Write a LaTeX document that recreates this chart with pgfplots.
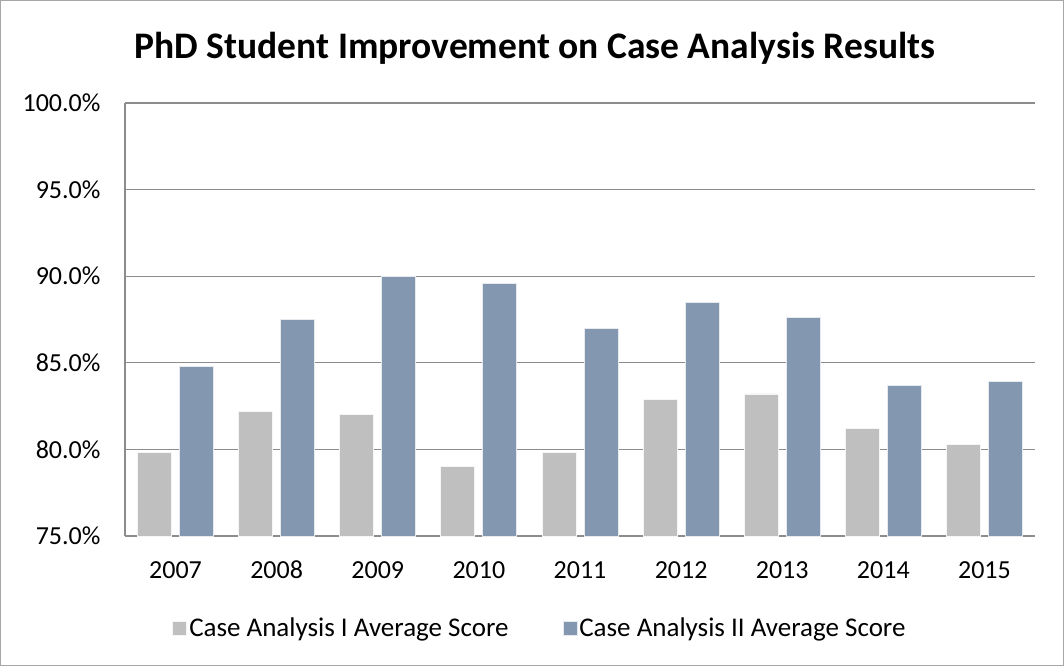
\documentclass[border=0pt]{standalone}
\usepackage{pgfplots}
\pgfplotsset{compat=1.18}
\usepackage{fontspec}
\setmainfont{Carlito}
\definecolor{barA}{HTML}{BFBFBF}
\definecolor{barB}{HTML}{8497B0}
\definecolor{gridc}{HTML}{8C8C8C}
\begin{document}
\begin{tikzpicture}[x=1pt,y=1pt]
\useasboundingbox (0,0) rectangle (1064,666);
\draw[gray!70, line width=1pt] (0.5,0.5) rectangle (1063.5,665.5);
\node[font=\fontsize{37.5}{43}\selectfont\bfseries] at (535,618) {PhD Student Improvement on Case Analysis Results};
\begin{axis}[
  at={(125pt,130pt)}, anchor=south west,
  scale only axis, width=910pt, height=433pt,
  xmin=-0.5, xmax=8.5, ymin=75, ymax=100,
  ytick={75,80,85,90,95,100},
  xtick={0,...,8},
  xticklabels={2007,2008,2009,2010,2011,2012,2013,2014,2015},
  yticklabel={\pgfmathprintnumber[fixed,fixed zerofill,precision=1]{\tick}\%},
  /pgf/number format/assume math mode=true,
  ticklabel style={font=\fontsize{26}{30}\selectfont},
  yticklabel style={xshift=-21pt},
  xticklabel style={anchor=base, yshift=-42pt},
  major tick length=0pt,
  axis x line*=bottom, axis y line*=left,
  axis line style={gridc, line width=1.5pt},
  ymajorgrids, grid style={gridc, line width=1.2pt},
  ybar=8pt, bar width=34pt,
  legend style={at={(0.456,-0.2125)}, anchor=center, draw=none, legend columns=2,
    font=\fontsize{27}{31}\selectfont, /tikz/every even column/.append style={column sep=52pt}},
  legend image code/.code={\fill[#1] (-4pt,-7pt) rectangle (10pt,7pt);},
  clip=false,
]
\addplot[fill=barA, draw=white!85!barA, line width=0.8pt] coordinates {(0,79.8) (1,82.2) (2,82.0) (3,79.0) (4,79.8) (5,82.9) (6,83.2) (7,81.2) (8,80.3)};
\addplot[fill=barB, draw=white!80!barB, line width=0.8pt] coordinates {(0,84.8) (1,87.5) (2,90.0) (3,89.6) (4,87.0) (5,88.5) (6,87.6) (7,83.7) (8,83.9)};
\legend{Case Analysis I Average Score, Case Analysis II Average Score}
\end{axis}
\end{tikzpicture}
\end{document}
